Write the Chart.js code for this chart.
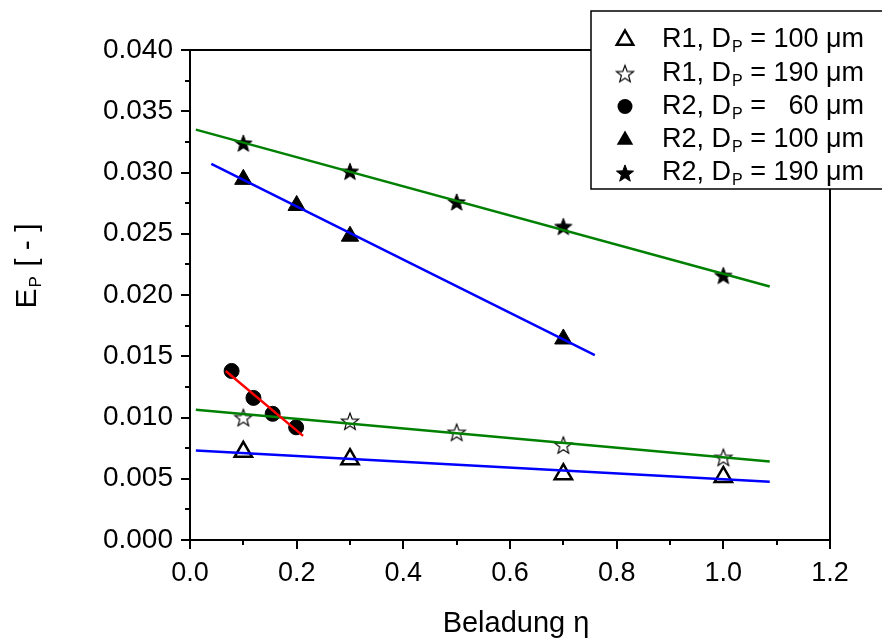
<!DOCTYPE html>
<html>
<head>
<meta charset="utf-8">
<script src="https://cdn.jsdelivr.net/npm/chart.js@4/dist/chart.umd.min.js"></script>
<style>
  html, body { margin: 0; padding: 0; background: #fff; }
  #wrap { width: 882px; height: 639px; }
</style>
</head>
<body>
<div id="wrap"><canvas id="epChart" width="882" height="639"></canvas></div>
<script>
// measured points
const r1d100X = [0.1, 0.3, 0.7, 1.0];
const r1d100Y = [0.0072, 0.0066, 0.00537, 0.00515];
const r1d190X = [0.1, 0.3, 0.5, 0.7, 1.0];
const r1d190Y = [0.0100, 0.0097, 0.0088, 0.00776, 0.00675];
const r2d60X = [0.078, 0.119, 0.155, 0.199];
const r2d60Y = [0.0138, 0.0116, 0.0103, 0.0092];
const r2d100X = [0.1, 0.2, 0.3, 0.7];
const r2d100Y = [0.02944, 0.02731, 0.0248, 0.01641];
const r2d190X = [0.1, 0.3, 0.5, 0.7, 1.0];
const r2d190Y = [0.0324, 0.0301, 0.0276, 0.0256, 0.0216];

// linear fits (end points)
const fitR2d190X = [0.011, 1.087];
const fitR2d190Y = [0.0335, 0.0207];
const fitR2d100X = [0.040, 0.759];
const fitR2d100Y = [0.0307, 0.0151];
const fitR2d60X = [0.067, 0.212];
const fitR2d60Y = [0.0138, 0.0085];
const fitR1d190X = [0.011, 1.087];
const fitR1d190Y = [0.01064, 0.0064];
const fitR1d100X = [0.011, 1.087];
const fitR1d100Y = [0.0073, 0.00476];

const xTicks = [0, 0.2, 0.4, 0.6, 0.8, 1.0, 1.2];
const yTicks = [0, 0.005, 0.010, 0.015, 0.020, 0.025, 0.030, 0.035, 0.040];

const legendRows = [
  { head: 'R1, D', tail: ' = 100 μm', marker: 'triOpen' },
  { head: 'R1, D', tail: ' = 190 μm', marker: 'starOpen' },
  { head: 'R2, D', tail: ' =   60 μm', marker: 'circle' },
  { head: 'R2, D', tail: ' = 100 μm', marker: 'triFull' },
  { head: 'R2, D', tail: ' = 190 μm', marker: 'starFull' },
];

const FONT = 'Arial, "Liberation Sans", sans-serif';

function pts(xs, ys) {
  return xs.map((x, i) => ({ x: x, y: ys[i] }));
}

function starPath(ctx, cx, cy, r) {
  const inner = r * 0.42;
  ctx.beginPath();
  for (let i = 0; i < 10; i++) {
    const rad = i % 2 === 0 ? r : inner;
    const a = -Math.PI / 2 + i * Math.PI / 5;
    const px = cx + rad * Math.cos(a);
    const py = cy + rad * Math.sin(a);
    if (i === 0) ctx.moveTo(px, py); else ctx.lineTo(px, py);
  }
  ctx.closePath();
}

function makeStar(r, filled) {
  const c = document.createElement('canvas');
  const s = Math.ceil(2 * r + 4);
  c.width = s; c.height = s;
  const g = c.getContext('2d');
  starPath(g, s / 2, s / 2 + r * 0.1, r);
  g.fillStyle = filled ? '#000' : '#fff';
  g.fill();
  g.lineWidth = filled ? 1 : 1.2;
  g.strokeStyle = '#000';
  g.stroke();
  return c;
}

const starFull = makeStar(9, true);
const starOpen = makeStar(9, false);

function lineSet(xs, ys, color) {
  return {
    type: 'line',
    data: pts(xs, ys),
    borderColor: color,
    borderWidth: 2.5,
    pointRadius: 0,
    fill: false,
    order: 0,
  };
}

function markerSet(label, xs, ys, style) {
  return {
    type: 'scatter',
    label: label,
    data: pts(xs, ys),
    order: 1,
    ...style,
  };
}

const datasets = [
  lineSet(fitR2d190X, fitR2d190Y, '#008000'),
  lineSet(fitR2d100X, fitR2d100Y, '#0000ff'),
  lineSet(fitR2d60X, fitR2d60Y, '#ff0000'),
  lineSet(fitR1d190X, fitR1d190Y, '#008000'),
  lineSet(fitR1d100X, fitR1d100Y, '#0000ff'),
  markerSet('R1 100', r1d100X, r1d100Y, {
    pointStyle: 'triangle', pointRadius: 10, pointBackgroundColor: '#fff',
    pointBorderColor: '#000', pointBorderWidth: 2.5,
  }),
  markerSet('R1 190', r1d190X, r1d190Y, { pointStyle: starOpen }),
  markerSet('R2 60', r2d60X, r2d60Y, {
    pointStyle: 'circle', pointRadius: 7.5, pointBackgroundColor: '#000',
    pointBorderColor: '#000', pointBorderWidth: 1,
  }),
  markerSet('R2 100', r2d100X, r2d100Y, {
    pointStyle: 'triangle', pointRadius: 10, pointBackgroundColor: '#000',
    pointBorderColor: '#000', pointBorderWidth: 1,
  }),
  markerSet('R2 190', r2d190X, r2d190Y, { pointStyle: starFull }),
];

// minor/major ticks, frame, titles and legend
const decorations = {
  id: 'decorations',
  afterDraw(chart) {
    const ctx = chart.ctx;
    const xs = chart.scales.x;
    const ys = chart.scales.y;
    const area = chart.chartArea;
    ctx.save();
    ctx.strokeStyle = '#000';
    ctx.lineWidth = 2;

    // top and right frame
    ctx.beginPath();
    ctx.moveTo(area.left, area.top);
    ctx.lineTo(area.right, area.top);
    ctx.lineTo(area.right, area.bottom);
    ctx.stroke();

    // x ticks
    for (let i = 0; i <= 12; i++) {
      const px = Math.round(xs.getPixelForValue(i / 10));
      const len = i % 2 === 0 ? 9 : 5;
      ctx.beginPath();
      ctx.moveTo(px, area.bottom);
      ctx.lineTo(px, area.bottom + len);
      ctx.stroke();
    }
    // y ticks
    for (let i = 0; i <= 16; i++) {
      const py = Math.round(ys.getPixelForValue(i * 0.0025));
      const len = i % 2 === 0 ? 9 : 5;
      ctx.beginPath();
      ctx.moveTo(area.left, py);
      ctx.lineTo(area.left - len, py);
      ctx.stroke();
    }

    ctx.fillStyle = '#000';
    // x title
    ctx.font = '29px ' + FONT;
    ctx.textAlign = 'center';
    ctx.textBaseline = 'alphabetic';
    ctx.fillText('Beladung η', 516, 632);

    // y title with subscript
    ctx.save();
    ctx.translate(36, 266);
    ctx.rotate(-Math.PI / 2);
    ctx.textAlign = 'left';
    ctx.font = '30px ' + FONT;
    const wE = ctx.measureText('E').width;
    const wRest = ctx.measureText(' [ - ]').width;
    ctx.font = '17px ' + FONT;
    const wP = ctx.measureText('P').width;
    const total = wE + wP + 2 + wRest;
    let tx = -total / 2;
    ctx.font = '30px ' + FONT;
    ctx.fillText('E', tx, 0);
    tx += wE + 1;
    ctx.font = '17px ' + FONT;
    ctx.fillText('P', tx, 5);
    tx += wP + 1;
    ctx.font = '30px ' + FONT;
    ctx.fillText(' [ - ]', tx, 0);
    ctx.restore();

    // legend box
    ctx.fillStyle = '#fff';
    ctx.fillRect(591, 11, 300, 178);
    ctx.lineWidth = 1.5;
    ctx.strokeRect(591, 11, 300, 178);

    const rowY = [40, 73.5, 106.5, 140, 173];
    legendRows.forEach((row, i) => {
      const y = rowY[i];
      const mx = 625;
      ctx.fillStyle = '#000';
      ctx.strokeStyle = '#000';
      if (row.marker === 'triOpen' || row.marker === 'triFull') {
        const r = 9.5;
        ctx.beginPath();
        ctx.moveTo(mx, y - r);
        ctx.lineTo(mx + r * 0.866, y + r * 0.5);
        ctx.lineTo(mx - r * 0.866, y + r * 0.5);
        ctx.closePath();
        if (row.marker === 'triFull') {
          ctx.fill();
        } else {
          ctx.fillStyle = '#fff';
          ctx.fill();
          ctx.lineWidth = 2.5;
          ctx.stroke();
        }
      } else if (row.marker === 'circle') {
        ctx.beginPath();
        ctx.arc(mx, y, 7.5, 0, Math.PI * 2);
        ctx.fill();
      } else {
        const img = row.marker === 'starFull' ? starFull : starOpen;
        ctx.drawImage(img, mx - img.width / 2, y - img.height / 2);
      }

      ctx.fillStyle = '#000';
      ctx.textAlign = 'left';
      ctx.textBaseline = 'middle';
      ctx.font = '27px ' + FONT;
      let tx2 = 662;
      ctx.fillText(row.head, tx2, y);
      tx2 += ctx.measureText(row.head).width;
      ctx.font = '16px ' + FONT;
      ctx.fillText('P', tx2 + 1, y + 8);
      tx2 += ctx.measureText('P').width + 1;
      ctx.font = '27px ' + FONT;
      ctx.fillText(row.tail, tx2, y);
    });
    ctx.restore();
  },
};

new Chart(document.getElementById('epChart').getContext('2d'), {
  type: 'scatter',
  data: { datasets: datasets },
  options: {
    responsive: false,
    animation: false,
    layout: { padding: { top: 50, right: 52, left: 0, bottom: 0 } },
    plugins: {
      legend: { display: false },
      tooltip: { enabled: false },
    },
    scales: {
      x: {
        type: 'linear',
        min: 0,
        max: 1.2,
        afterFit: (s) => { s.height = 99; },
        afterBuildTicks: (s) => { s.ticks = xTicks.map(v => ({ value: v })); },
        grid: { drawOnChartArea: false, drawTicks: false },
        border: { color: '#000', width: 2 },
        ticks: {
          color: '#000',
          padding: 17,
          font: { family: FONT, size: 27 },
          callback: (v) => Number(v).toFixed(1),
        },
      },
      y: {
        type: 'linear',
        min: 0,
        max: 0.04,
        afterFit: (s) => { s.width = 190; },
        afterBuildTicks: (s) => { s.ticks = yTicks.map(v => ({ value: v })); },
        grid: { drawOnChartArea: false, drawTicks: false },
        border: { color: '#000', width: 2 },
        ticks: {
          color: '#000',
          padding: 17,
          font: { family: FONT, size: 28 },
          callback: (v) => Number(v).toFixed(3),
        },
      },
    },
  },
  plugins: [decorations],
});
</script>
</body>
</html>
